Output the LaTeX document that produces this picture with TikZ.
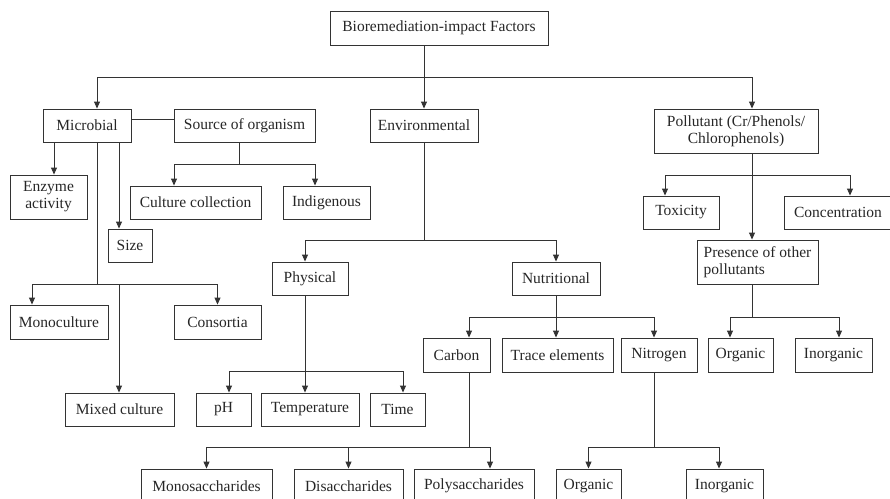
\documentclass[tikz,border=0pt]{standalone}
\usepackage{fontspec}
\setmainfont{Liberation Serif}
\usetikzlibrary{arrows.meta}
\definecolor{linecol}{gray}{0.2}
\begin{document}
\begin{tikzpicture}[x=1pt,y=-1pt,
  box/.style={draw=linecol, line width=0.9pt, rectangle, inner sep=0pt,
    align=center, text=black!85, font=\fontsize{15.5}{17}\selectfont},
  sz/.style 2 args={minimum width=#1pt, minimum height=#2pt},
  link/.style={draw=linecol, line width=0.9pt},
  arr/.style={link, -{Triangle[length=7pt,width=6pt]}},
]
\useasboundingbox (0,0) rectangle (890,498);

% ---- boxes ----
\node[box,sz={218}{34}] (root)   at (439,28)    {Bioremediation-impact Factors};
\node[box,sz={88}{33}]  (mic)    at (87,125.5)  {Microbial};
\node[box,sz={141}{33}] (src)    at (244.5,125.5) {Source of organism};
\node[box,sz={108}{33}] (env)    at (424,125.5) {Environmental};
\node[box,sz={164}{44}] (pol)    at (736,131)   {Pollutant (Cr/Phenols/\\Chlorophenols)};
\node[box,sz={77}{44}]  (enz)    at (48.5,197)  {Enzyme\\activity};
\node[box,sz={131}{33}] (cc)     at (195.5,202.5) {Culture collection};
\node[box,sz={87}{33}]  (ind)    at (326.5,202.5) {Indigenous};
\node[box,sz={44}{33}]  (size)   at (130,245.5) {Size};
\node[box,sz={76}{33}]  (tox)    at (681,212.5) {Toxicity};
\node[box,sz={108}{33}] (conc)   at (838,212.5) {Concentration};
\node[box,sz={121}{44},align=left] (pres) at (757.5,262) {Presence of other\\pollutants};
\node[box,sz={76}{33}]  (phys)   at (310,278.5) {Physical};
\node[box,sz={88}{33}]  (nut)    at (556,278.5) {Nutritional};
\node[box,sz={98}{34}]  (mono)   at (59,322)    {Monoculture};
\node[box,sz={87}{34}]  (cons)   at (217.5,322) {Consortia};
\node[box,sz={67}{34}]  (carb)   at (456.5,355) {Carbon};
\node[box,sz={111}{34}] (trace)  at (557.5,355) {Trace elements};
\node[box,sz={76}{34}]  (nitro)  at (659,355)   {Nitrogen};
\node[box,sz={65}{34}]  (orgP)   at (740.5,355) {Organic};
\node[box,sz={77}{34}]  (inorgP) at (833.5,355) {Inorganic};
\node[box,sz={109}{33}] (mixed)  at (119.5,409.5) {Mixed culture};
\node[box,sz={55}{33}]  (ph)     at (223.5,409.5) {pH};
\node[box,sz={98}{33}]  (temp)   at (310,409.5) {Temperature};
\node[box,sz={55}{33}]  (time)   at (397.5,409.5) {Time};
\node[box,sz={131}{34}] (monos)  at (206.5,486) {Monosaccharides};
\node[box,sz={109}{34}] (dis)    at (348.5,486) {Disaccharides};
\node[box,sz={120}{34}] (poly)   at (474,486)   {Polysaccharides};
\node[box,sz={65}{34}]  (orgN)   at (588.5,486) {Organic};
\node[box,sz={77}{34}]  (inorgN) at (724.5,486) {Inorganic};

% ---- guide columns for connector drops ----
\coordinate (cMic)  at (97,0);
\coordinate (cEnz)  at (54,0);
\coordinate (cSize) at (119,0);
\coordinate (cMono) at (32,0);
\coordinate (cSrc)  at (239,0);
\coordinate (cCC)   at (174,0);
\coordinate (cInd)  at (315,0);
\coordinate (cPhys) at (305,0);
\coordinate (cPH)   at (229,0);
\coordinate (cTime) at (403,0);
\coordinate (cCarb) at (469,0);
\coordinate (cPoly) at (490,0);
\coordinate (cNitro) at (654,0);
\coordinate (cInN)  at (719,0);
\coordinate (cPol)  at (752,0);
\coordinate (cTox)  at (665,0);
\coordinate (cConc) at (850,0);
\coordinate (cOrgP) at (730,0);
\coordinate (cInP)  at (839,0);

% ---- junctions ----
\coordinate (jTop)  at (424,77);
\coordinate (jMic)  at (97,284);
\coordinate (jSrc)  at (239,164);
\coordinate (jEnv)  at (424,240);
\coordinate (jPhys) at (305,371);
\coordinate (jNut)  at (556,317);
\coordinate (jCarb) at (469,447);
\coordinate (jNitro) at (654,447);
\coordinate (jPol)  at (752,175);
\coordinate (jPres) at (752,317);

% ---- root ----
\draw[arr] (root.south -| env.north) -- (env.north);
\draw[arr] (jTop) -| (cMic |- mic.north);
\draw[arr] (jTop) -| (cPol |- pol.north);

% ---- microbial ----
\draw[link] ([yshift=6.5pt]mic.east) -- ([yshift=6.5pt]src.west);
\draw[arr] (cEnz |- mic.south) -- (cEnz |- enz.north);
\draw[arr] (cSize |- mic.south) -- (cSize |- size.north);
\draw[link] (cMic |- mic.south) -- (jMic);
\draw[arr] (jMic) -| (cMono |- mono.north);
\draw[arr] (jMic) -| (cons.north);
\draw[arr] (cSize |- jMic) -- (cSize |- mixed.north);

% ---- source of organism ----
\draw[link] (cSrc |- src.south) -- (jSrc);
\draw[arr] (jSrc) -| (cCC |- cc.north);
\draw[arr] (jSrc) -| (cInd |- ind.north);

% ---- environmental ----
\draw[link] (env.south) -- (jEnv);
\draw[arr] (jEnv) -| (cPhys |- phys.north);
\draw[arr] (jEnv) -| (nut.north);

% ---- physical ----
\draw[link] (cPhys |- phys.south) -- (jPhys);
\draw[arr] (jPhys) -| (cPH |- ph.north);
\draw[arr] (jPhys) -- (cPhys |- temp.north);
\draw[arr] (jPhys) -| (cTime |- time.north);

% ---- nutritional ----
\draw[link] (nut.south) -- (jNut);
\draw[arr] (jNut) -| (cCarb |- carb.north);
\draw[arr] (jNut) -- (jNut |- trace.north);
\draw[arr] (jNut) -| (cNitro |- nitro.north);

% ---- carbon ----
\draw[link] (cCarb |- carb.south) -- (jCarb);
\draw[arr] (jCarb) -| (cPoly |- poly.north);
\draw[arr] (jCarb) -| (monos.north);
\draw[arr] (dis.north |- jCarb) -- (dis.north);

% ---- nitrogen ----
\draw[link] (cNitro |- nitro.south) -- (jNitro);
\draw[arr] (jNitro) -| (orgN.north);
\draw[arr] (jNitro) -| (cInN |- inorgN.north);

% ---- pollutant ----
\draw[arr] (cPol |- pol.south) -- (cPol |- pres.north);
\draw[arr] (jPol) -| (cTox |- tox.north);
\draw[arr] (jPol) -| (cConc |- conc.north);

% ---- other pollutants ----
\draw[link] (cPol |- pres.south) -- (jPres);
\draw[arr] (jPres) -| (cOrgP |- orgP.north);
\draw[arr] (jPres) -| (cInP |- inorgP.north);
\end{tikzpicture}
\end{document}
